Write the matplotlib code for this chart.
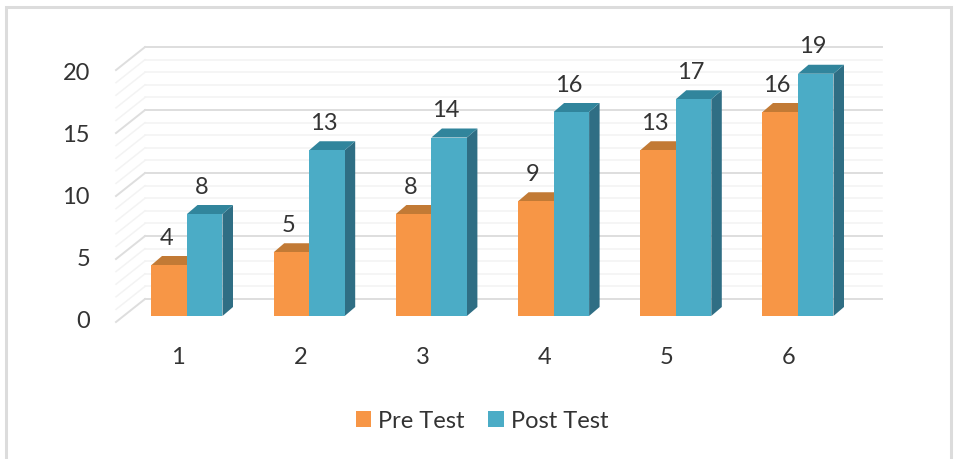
import matplotlib
matplotlib.use('Agg')
import matplotlib.pyplot as plt
from matplotlib.patches import Polygon, Patch, Rectangle

plt.rcParams['font.family'] = ['Lato', 'DejaVu Sans']

# scores per session
sessions = [1, 2, 3, 4, 5, 6]
pre_test = [4, 5, 8, 9, 13, 16]
post_test = [8, 13, 14, 16, 17, 19]
y_ticks = [0, 5, 10, 15, 20]

W, H = 964, 459
TEXT = '#333333'
ORANGE = ('#F79646', '#C27A35', '#A8672A')
BLUE = ('#4BACC6', '#31859C', '#2F6E84')

# one unit along x is 122.2 px, one unit along y is 12.75 px
UX, UY = 122.2, 12.75
X0, Y0 = 187.0, 316.0

fig = plt.figure(figsize=(W / 100, H / 100), dpi=100)
ax = fig.add_axes([0, 0, 1, 1])
ax.set_xlim(1 - X0 / UX, 1 + (W - X0) / UX)
ax.set_ylim(-(H - Y0) / UY, Y0 / UY)
ax.axis('off')

# outer frame of the chart, its lower edge runs off the figure
fig.add_artist(Rectangle((5.5 / W, -10 / H), 945.5 / W, (H + 10 - 7) / H, transform=fig.transFigure,
                         fill=False, edgecolor='#dcdcdc', linewidth=2.2))

# bar geometry in data units
bar_w = 35.5 / UX
depth_x = 10.5 / UX
depth_y = 9.0 / UY

# back wall and left wall, one line for every unit
wall_left = 1 + (145 - X0) / UX
wall_right = 1 + (882 - X0) / UX
side_left = 1 + (116 - X0) / UX
wall_base = 17.0 / UY
wall_scale = 0.988
side_drop = 23.0 / UY

for v in range(0, 21):
    yb = wall_base + v * wall_scale
    major = v % 5 == 0
    color = '#dedede' if major else '#f3f3f3'
    lw = 1.4 if major else 1.1
    ax.plot([wall_left, wall_right], [yb, yb], color=color, linewidth=lw, zorder=1)
    ax.plot([side_left, wall_left], [yb - side_drop, yb], color=color, linewidth=lw, zorder=1)


def draw_bar(x, v, colors):
    left = x
    right = x + bar_w
    front = Rectangle((left, 0), bar_w, v, facecolor=colors[0], edgecolor='none', zorder=3)
    top = Polygon([(left, v), (right, v), (right + depth_x, v + depth_y), (left + depth_x, v + depth_y)],
                  facecolor=colors[1], edgecolor='none', zorder=3)
    side = Polygon([(right, 0), (right + depth_x, depth_y), (right + depth_x, v + depth_y), (right, v)],
                   facecolor=colors[2], edgecolor='none', zorder=3)
    ax.add_patch(side)
    ax.add_patch(top)
    ax.add_patch(front)
    ax.annotate(str(v), xy=(x + bar_w / 2, v), xytext=(-3 * 0.72, 27 * 0.72), textcoords='offset points',
                ha='center', va='center', fontsize=17, color=TEXT, zorder=5)


for s, pre, post in zip(sessions, pre_test, post_test):
    draw_bar(s - bar_w, pre, ORANGE)
    draw_bar(s, post, BLUE)
    ax.annotate(str(s), xy=(s, 0), xytext=(-9 * 0.72, -41 * 0.72), textcoords='offset points',
                ha='center', va='center', fontsize=17, color=TEXT)

# value axis labels sit on their own slightly tighter scale
ax2 = fig.add_axes([90 / W, 1 - 320 / H, 20 / W, 248 / H])
ax2.patch.set_visible(False)
ax2.set_ylim(0, 20)
ax2.set_xticks([])
ax2.set_yticks(y_ticks)
ax2.tick_params(axis='y', length=0, pad=0, labelsize=17, labelcolor=TEXT)
for sp in ax2.spines.values():
    sp.set_visible(False)

handles = [Patch(facecolor=ORANGE[0], label='Pre Test'), Patch(facecolor=BLUE[0], label='Post Test')]
fig.legend(handles=handles, loc='center', bbox_to_anchor=(482 / W, 1 - 421 / H), ncol=2, frameon=False,
           fontsize=17, labelcolor=TEXT, handlelength=0.65, handleheight=0.65, handletextpad=0.3,
           columnspacing=1.0)

fig.savefig('out.png', dpi=100)
